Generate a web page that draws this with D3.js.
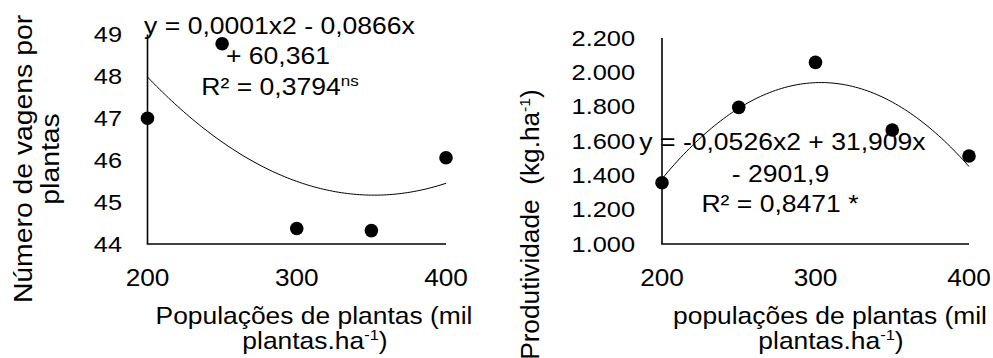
<!DOCTYPE html>
<html>
<head>
<meta charset="utf-8">
<script src="https://cdn.jsdelivr.net/npm/d3@7"></script>
<style>
  html, body { margin: 0; padding: 0; background: #fff; }
  svg { display: block; }
  text { font-family: "Liberation Sans", Arial, sans-serif; fill: #000; white-space: pre; }
</style>
</head>
<body>
<div id="chart"></div>
<script>
// ---------- data ----------
const populacoes = [200, 250, 300, 350, 400];
const vagensPorPlanta = [47.0, 48.78, 44.37, 44.32, 46.06];
const produtividade = [1357, 1796, 2058, 1664, 1513];

const xTicks = [200, 300, 400];
const xTickLabels = ["200", "300", "400"];
const yTicksLeft = [44, 45, 46, 47, 48, 49];
const yTickLabelsLeft = ["44", "45", "46", "47", "48", "49"];
const yTicksRight = [1000, 1200, 1400, 1600, 1800, 2000, 2200];
const yTickLabelsRight = ["1.000", "1.200", "1.400", "1.600", "1.800", "2.000", "2.200"];

const eqLeft = ["y = 0,0001x2 - 0,0866x", "+ 60,361", "R² = 0,3794"];
const eqLeftSup = "ns";
const eqRight = ["y = -0,0526x2 + 31,909x", "- 2901,9", "R² = 0,8471 *"];

const yTitleLeft = ["Número de vagens por", "plantas"];
const yTitleRight = "Produtividade  (kg.ha";
const xTitleLeft = "Populações de plantas (mil";
const xTitleRight = "populações de plantas (mil";
const xTitleLine2 = "plantas.ha";

// ---------- helpers ----------
function quadFit(xs, ys) {
  // least squares y = a + b t + c t^2, t = (x - m)/s
  const m = d3.mean(xs), s = 100;
  const ts = xs.map(x => (x - m) / s);
  const S = [0,0,0,0,0], T = [0,0,0];
  ts.forEach((t, i) => {
    for (let k = 0; k < 5; k++) S[k] += Math.pow(t, k);
    for (let k = 0; k < 3; k++) T[k] += Math.pow(t, k) * ys[i];
  });
  const A = [[S[0],S[1],S[2],T[0]],[S[1],S[2],S[3],T[1]],[S[2],S[3],S[4],T[2]]];
  for (let i = 0; i < 3; i++) {
    let p = i;
    for (let r = i+1; r < 3; r++) if (Math.abs(A[r][i]) > Math.abs(A[p][i])) p = r;
    [A[i], A[p]] = [A[p], A[i]];
    for (let r = 0; r < 3; r++) {
      if (r === i) continue;
      const f = A[r][i] / A[i][i];
      for (let c = i; c < 4; c++) A[r][c] -= f * A[i][c];
    }
  }
  const coef = [A[0][3]/A[0][0], A[1][3]/A[1][1], A[2][3]/A[2][2]];
  return x => { const t = (x - m) / s; return coef[0] + coef[1]*t + coef[2]*t*t; };
}

const svg = d3.select("#chart").append("svg")
  .attr("width", 993).attr("height", 358);
svg.append("rect").attr("width", 993).attr("height", 358).attr("fill", "#fff");

function htext(g, x, y, str, size, sx, anchor) {
  return g.append("text")
    .attr("transform", `translate(${x},${y}) scale(${sx},1)`)
    .attr("text-anchor", anchor || "middle")
    .style("font-size", size + "px")
    .text(str);
}

function drawPanel(cfg) {
  const g = svg.append("g");
  const x = d3.scaleLinear().domain([200, 400]).range(cfg.xRange);
  const y = d3.scaleLinear().domain(cfg.yDomain).range(cfg.yRange);

  // y tick labels
  cfg.yTicks.forEach((v, i) => {
    htext(g, cfg.yLabelRight, y(v) + 0.358 * 21.5, cfg.yTickLabels[i], 21.5, 1.18, "end");
  });
  // x tick labels
  xTicks.forEach((v, i) => {
    htext(g, x(v), 277 + 0.358 * 24.5, xTickLabels[i], 24.5, 1.07, "middle");
  });

  // axes
  const ax = g.append("g").attr("stroke", "#000").attr("stroke-width", 1.6).attr("fill", "none");
  ax.append("line").attr("x1", x(200)).attr("x2", x(200)).attr("y1", y(cfg.yDomain[1])).attr("y2", y(cfg.yDomain[0]));
  ax.append("line").attr("x1", x(200) - 0.8).attr("x2", x(400)).attr("y1", y(cfg.yDomain[0])).attr("y2", y(cfg.yDomain[0]));

  // trendline (least-squares quadratic of the points)
  const f = quadFit(populacoes, cfg.values);
  const xs = d3.range(200, 400.001, 2);
  g.append("path")
    .attr("d", d3.line().x(d => x(d)).y(d => y(f(d)))(xs))
    .attr("fill", "none").attr("stroke", "#000").attr("stroke-width", 1);

  // points
  g.selectAll("circle.pt").data(cfg.values).join("circle")
    .attr("class", "pt")
    .attr("cx", (d, i) => x(populacoes[i]))
    .attr("cy", d => y(d))
    .attr("r", 6.8).attr("fill", "#000");

  // equation
  const E = 23.5, ES = 1.13;
  cfg.eq.forEach((line, i) => {
    const t = htext(g, cfg.eqX[i], cfg.eqY[i], line, E, ES, "middle");
    if (i === 2 && cfg.eqSup) {
      t.append("tspan").attr("dy", -8.5).style("font-size", "15px").text(cfg.eqSup);
    }
  });

  // x title
  htext(g, cfg.xTitleX, 324, cfg.xTitle, 24, 1.1, "middle");
  const t2 = htext(g, cfg.xTitleX + 1, 349, xTitleLine2, 24, 1.1, "middle");
  t2.append("tspan").attr("dy", -9).style("font-size", "15px").text("-1");
  t2.append("tspan").attr("dy", 9).text(")");
  return g;
}

drawPanel({
  xRange: [147.5, 446],
  yDomain: [44, 49], yRange: [244, 34.5],
  yTicks: yTicksLeft, yTickLabels: yTickLabelsLeft, yLabelRight: 122,
  values: vagensPorPlanta,
  eq: eqLeft, eqSup: eqLeftSup,
  eqX: [279.5, 278, 280], eqY: [33.5, 64, 94.5],
  xTitle: xTitleLeft, xTitleX: 314
});

drawPanel({
  xRange: [662, 969],
  yDomain: [1000, 2200], yRange: [244, 38],
  yTicks: yTicksRight, yTickLabels: yTickLabelsRight, yLabelRight: 635,
  values: produtividade,
  eq: eqRight, eqSup: null,
  eqX: [782.5, 780.5, 780], eqY: [150, 181.5, 211.5],
  xTitle: xTitleRight, xTitleX: 830
});

// y titles (rotated)
const yt = svg.append("g");
yTitleLeft.forEach((line, i) => {
  yt.append("text")
    .attr("transform", `translate(${i === 0 ? 32 : 59},159) rotate(-90) scale(1.09,1)`)
    .attr("text-anchor", "middle")
    .style("font-size", "26px")
    .text(line);
});
const yr = yt.append("text")
  .attr("transform", "translate(539,224.5) rotate(-90) scale(1.05,1)")
  .attr("text-anchor", "middle")
  .style("font-size", "25px")
  .text(yTitleRight);
yr.append("tspan").attr("dy", -9).style("font-size", "15px").text("-1");
yr.append("tspan").attr("dy", 9).text(")");
</script>
</body>
</html>
